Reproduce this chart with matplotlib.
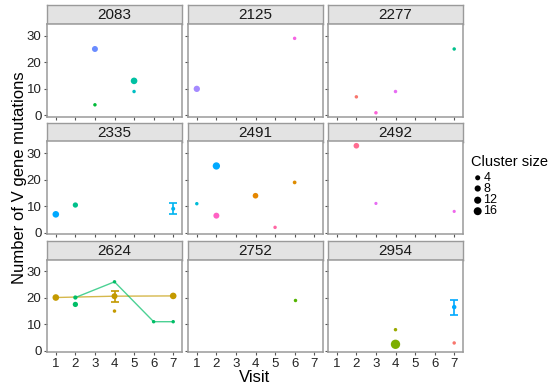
import matplotlib
matplotlib.use("Agg")
import matplotlib.pyplot as plt
import numpy as np

plt.rcParams['font.family'] = ['Liberation Sans', 'DejaVu Sans']

# Facets (donors)
donors = ["2083", "2125", "2277", "2335", "2491", "2492", "2624", "2752", "2954"]

# Points: donor, visit, number of V gene mutations, cluster size, colour
pt_donor = ["2083", "2083", "2083", "2083",
            "2125", "2125",
            "2277", "2277", "2277", "2277",
            "2335", "2335", "2335",
            "2491", "2491", "2491", "2491", "2491", "2491",
            "2492", "2492", "2492",
            "2624", "2624", "2624", "2624", "2624", "2624", "2624", "2624", "2624",
            "2752",
            "2954", "2954", "2954", "2954"]
pt_visit = [3, 5, 5, 3,
            1, 6,
            2, 3, 4, 7,
            1, 2, 7,
            1, 2, 2, 4, 5, 6,
            2, 3, 7,
            1, 4, 4, 7, 2, 2, 4, 6, 7,
            6,
            4, 4, 7, 7]
pt_mut = [25, 13, 9, 4,
          10, 29,
          7, 1, 9, 25,
          7, 10.5, 9.1,
          11, 25.2, 6.5, 14, 2.1, 19,
          32.8, 11.1, 8.1,
          20.1, 20.6, 15, 20.7, 20.1, 17.5, 26, 11, 11,
          19,
          8, 2.5, 16.5, 3]
pt_size = [14, 18, 2, 2,
           16, 2,
           2, 2, 2, 2,
           18, 10, 4,
           2, 23, 14, 12, 2, 3,
           12, 1, 1,
           18, 14, 2, 18, 5, 10, 2, 2, 2,
           2,
           2, 40, 6, 2]
pt_color = ["#6a8cff", "#00c1a3", "#00bfc4", "#00ba38",
            "#a58aff", "#f564e3",
            "#f8766d", "#fb61d7", "#e76bf3", "#00c08b",
            "#00a9ff", "#00c08b", "#00b4f0",
            "#00bcd8", "#00a9ff", "#ff61c3", "#e58700", "#ff67a4", "#de8c00",
            "#ff6c91", "#e76bf3", "#ef67eb",
            "#c49a00", "#c49a00", "#c49a00", "#c49a00", "#00be67", "#00be67", "#00be67", "#00be67", "#00be67",
            "#53b400",
            "#9aaa00", "#7cae00", "#00a9ff", "#f8766d"]

# Error bars: donor, visit, mean, low, high, colour
eb_donor = ["2335", "2624", "2954"]
eb_visit = [7, 4, 7]
eb_mid = [9.1, 20.6, 16.5]
eb_lo = [7.0, 18.4, 13.7]
eb_hi = [11.4, 22.5, 19.1]
eb_color = ["#00b4f0", "#c49a00", "#00a9ff"]

# Lineages followed over visits
line_donor = ["2624", "2624"]
line_visits = [[1, 4, 7], [2, 4, 6, 7]]
line_vals = [[20.1, 20.6, 20.7], [20.1, 26, 11, 11]]
line_color = ["#c49a00", "#00be67"]

legend_sizes = [4, 8, 12, 16]

W, H = 555, 387
DPI = 100


def area(v):
    # marker area (pt^2) for a cluster size
    d_px = np.sqrt(8.1 + 1.98 * np.asarray(v, dtype=float))
    return (d_px * 72 / DPI) ** 2


def px_rect(l, t, w, h):
    return [l / W, 1 - (t + h) / H, w / W, h / H]


fig = plt.figure(figsize=(W / DPI, H / DPI), dpi=DPI)

col_left = [47, 188, 328]
strip_top = [5, 122.5, 240.5]
pw, sh, ph = 135, 19, 92.5
border = "#9a9a9a"

pt_donor_a = np.array(pt_donor)
for i, d in enumerate(donors):
    r, c = divmod(i, 3)
    l, t = col_left[c], strip_top[r]

    # strip
    sax = fig.add_axes(px_rect(l, t, pw, sh))
    sax.set_facecolor("#e3e3e3")
    sax.set_xticks([])
    sax.set_yticks([])
    for s in sax.spines.values():
        s.set_color(border)
        s.set_linewidth(1)
    sax.text(0.5, 0.45, d, ha="center", va="center", fontsize=11, color="#1a1a1a",
             transform=sax.transAxes)

    ax = fig.add_axes(px_rect(l, t + sh, pw, ph))
    for s in ax.spines.values():
        s.set_color(border)
        s.set_linewidth(1.1)

    for k, ld in enumerate(line_donor):
        if ld == d:
            ax.plot(line_visits[k], line_vals[k], color=line_color[k], lw=1, alpha=0.7, zorder=2)

    for k, ed in enumerate(eb_donor):
        if ed == d:
            ax.errorbar([eb_visit[k]], [eb_mid[k]],
                        yerr=[[eb_mid[k] - eb_lo[k]], [eb_hi[k] - eb_mid[k]]],
                        fmt="none", ecolor=eb_color[k], elinewidth=1.2, capsize=2.6,
                        capthick=1.2, zorder=3)

    idx = np.where(pt_donor_a == d)[0]
    ax.scatter(np.array(pt_visit)[idx], np.array(pt_mut)[idx],
               s=area(np.array(pt_size)[idx]), c=np.array(pt_color)[idx],
               linewidths=0, zorder=4)

    ax.set_xlim(0.55, 7.45)
    ax.set_ylim(-0.4, 34.4)
    ax.set_xticks(range(1, 8))
    ax.set_yticks([0, 10, 20, 30])
    ax.tick_params(length=2.5, width=0.8, color="#555555", labelsize=9.5,
                   labelcolor="#222222", pad=1.5)
    if c != 0:
        ax.tick_params(labelleft=False)
    if r != 2:
        ax.tick_params(labelbottom=False)

fig.text(20 / W, 1 - 178 / H, "Number of V gene mutations", rotation=90,
         ha="center", va="center", fontsize=12)
fig.text(255 / W, 1 - 382 / H, "Visit", ha="center", va="baseline", fontsize=12)

# size legend
fig.text(471 / W, 1 - 162 / H, "Cluster size", ha="left", va="center", fontsize=10.5)
lax = fig.add_axes(px_rect(470, 170, 30, 50))
lax.set_xlim(0, 30)
lax.set_ylim(50, 0)
lax.axis("off")
leg_y = [7.8, 18.5, 30.2, 41.2]
lax.scatter([7.7] * len(legend_sizes), leg_y, s=area(legend_sizes) * 1.6, c="black", linewidths=0)
for yv, v in zip(leg_y, legend_sizes):
    lax.text(13.5, yv, str(v), ha="left", va="center", fontsize=9)

fig.savefig("out.png", dpi=DPI)
